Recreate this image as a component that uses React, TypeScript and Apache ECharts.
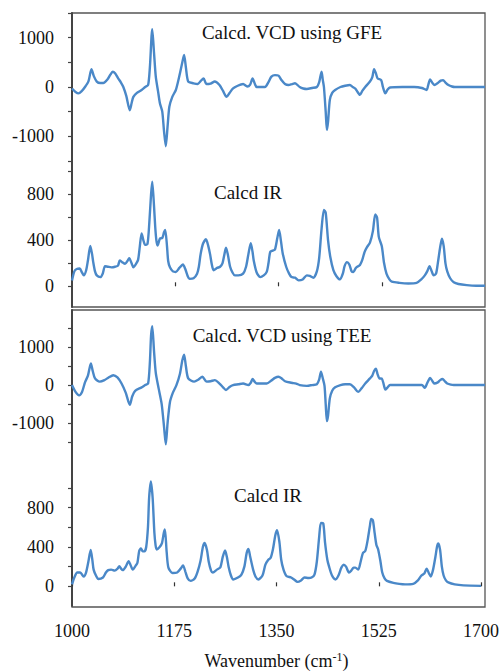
import React, { useEffect, useRef } from "react";
import * as echarts from "echarts";

// ---- data (wavenumber cm^-1, intensity) ----
const xTicks = [1000, 1175, 1350, 1525, 1700];
const vcdTicks = [-1500, -1000, -500, 0, 500, 1000, 1500];
const vcdLabels = [-1000, 0, 1000];
const irTicks = [0, 200, 400, 600, 800, 1000];
const irLabels = [0, 400, 800];

const vcdGFE: number[][] = [
  [1000, -30], [1006, -100], [1011, -130], [1016, -90], [1022, 0], [1028, 120], [1033, 360], [1037, 220], [1042, 110], [1048, 80], [1053, 80], [1060, 150], [1065, 250], [1069, 310], [1073, 280], [1078, 180], [1083, 90], [1087, 0], [1092, -180], [1098, -470], [1101, -330], [1104, -200], [1110, -120], [1118, -60], [1124, 0], [1129, 40], [1132, 400], [1136, 1170], [1139, 700], [1142, 210], [1146, -100], [1149, -330], [1153, -500], [1156, -900], [1159, -1200], [1162, -800], [1165, -400], [1170, -200], [1176, -60], [1180, 120], [1183, 280], [1187, 500], [1190, 650], [1193, 400], [1197, 110], [1206, 75], [1213, 60], [1218, 120], [1223, 175], [1228, 60], [1235, 70], [1242, 110], [1250, 40], [1256, -80], [1262, -200], [1267, -120], [1273, -30], [1280, 20], [1290, 60], [1297, 10], [1302, 50], [1306, 175], [1310, 60], [1313, 0], [1320, 0], [1327, 0], [1333, 100], [1338, 210], [1344, 240], [1350, 230], [1355, 140], [1361, 60], [1367, 40], [1373, 60], [1378, 75], [1386, 0], [1392, -30], [1398, -40], [1407, -20], [1415, 0], [1419, 100], [1423, 310], [1425, 150], [1427, 0], [1430, -500], [1432, -870], [1434, -700], [1437, -260], [1441, -120], [1446, -60], [1455, 0], [1463, 25], [1471, 40], [1476, 0], [1480, -30], [1484, -100], [1488, -160], [1492, -80], [1497, 0], [1505, 110], [1509, 200], [1512, 360], [1515, 280], [1518, 175], [1524, 140], [1527, 0], [1531, -130], [1535, -50], [1539, -10], [1560, 0], [1580, 0], [1593, -20], [1601, -60], [1604, 50], [1607, 155], [1611, 80], [1614, 40], [1620, 80], [1625, 130], [1629, 140], [1633, 90], [1638, 40], [1644, 10], [1649, 0], [1675, 0], [1700, 0],
];

const irGFE: number[][] = [
  [1000, 50], [1004, 130], [1008, 150], [1013, 155], [1017, 120], [1020, 95], [1024, 140], [1027, 225], [1031, 350], [1034, 280], [1036, 210], [1039, 130], [1042, 95], [1048, 80], [1052, 110], [1056, 175], [1061, 170], [1067, 165], [1073, 170], [1078, 180], [1081, 225], [1085, 210], [1090, 195], [1094, 220], [1097, 245], [1101, 200], [1104, 165], [1108, 190], [1112, 230], [1115, 350], [1118, 460], [1121, 400], [1124, 360], [1128, 370], [1131, 550], [1134, 800], [1136, 910], [1139, 700], [1141, 520], [1143, 400], [1145, 355], [1149, 415], [1153, 420], [1156, 470], [1158, 490], [1161, 350], [1163, 220], [1166, 165], [1171, 130], [1176, 125], [1182, 160], [1188, 190], [1192, 150], [1196, 90], [1199, 65], [1206, 70], [1212, 110], [1215, 170], [1218, 280], [1222, 370], [1227, 410], [1231, 350], [1234, 280], [1237, 190], [1240, 140], [1246, 160], [1251, 170], [1255, 200], [1258, 270], [1261, 335], [1264, 280], [1268, 170], [1272, 120], [1276, 95], [1282, 95], [1290, 110], [1295, 170], [1299, 280], [1303, 375], [1306, 300], [1308, 225], [1313, 120], [1319, 80], [1325, 95], [1330, 125], [1333, 200], [1336, 300], [1340, 310], [1344, 320], [1348, 420], [1351, 490], [1354, 400], [1357, 290], [1363, 170], [1368, 110], [1372, 80], [1378, 75], [1384, 52], [1391, 60], [1398, 95], [1403, 90], [1409, 75], [1415, 130], [1419, 250], [1423, 500], [1427, 665], [1430, 640], [1434, 400], [1438, 250], [1443, 140], [1448, 90], [1454, 60], [1459, 110], [1462, 175], [1466, 210], [1470, 190], [1474, 130], [1477, 125], [1481, 160], [1485, 175], [1488, 185], [1492, 230], [1496, 300], [1500, 340], [1505, 380], [1510, 480], [1514, 625], [1517, 600], [1520, 430], [1525, 350], [1529, 200], [1533, 110], [1538, 60], [1542, 40], [1555, 30], [1570, 25], [1584, 30], [1592, 60], [1598, 95], [1602, 130], [1606, 175], [1609, 140], [1613, 95], [1617, 110], [1620, 200], [1624, 340], [1627, 415], [1630, 350], [1633, 200], [1636, 130], [1641, 70], [1647, 35], [1655, 20], [1669, 10], [1685, 5], [1700, 5],
];

const vcdTEE: number[][] = [
  [1000, 0], [1006, -180], [1012, -270], [1017, -180], [1022, 70], [1027, 250], [1032, 570], [1035, 380], [1039, 175], [1047, 90], [1055, 130], [1062, 200], [1070, 260], [1077, 200], [1084, 40], [1091, -200], [1098, -520], [1102, -300], [1107, -150], [1118, -60], [1124, 0], [1129, 40], [1132, 600], [1134, 1300], [1136, 1550], [1139, 900], [1142, 320], [1147, -100], [1152, -500], [1156, -1100], [1159, -1560], [1162, -1000], [1166, -450], [1171, -200], [1177, 0], [1183, 300], [1187, 650], [1190, 800], [1193, 500], [1197, 175], [1207, 90], [1214, 140], [1221, 220], [1228, 90], [1235, 100], [1242, 130], [1250, 40], [1256, -60], [1261, -130], [1267, -50], [1273, 0], [1282, 20], [1290, 40], [1299, 0], [1303, 60], [1306, 160], [1310, 80], [1313, 40], [1322, 40], [1330, 40], [1338, 120], [1344, 190], [1350, 220], [1355, 180], [1361, 100], [1372, 60], [1380, 40], [1386, 0], [1398, -20], [1407, 0], [1415, 20], [1419, 150], [1422, 350], [1425, 180], [1428, -20], [1430, -500], [1432, -950], [1434, -800], [1437, -350], [1441, -150], [1446, -60], [1455, 0], [1463, 20], [1471, 20], [1478, -60], [1485, -180], [1491, -80], [1497, 40], [1505, 175], [1509, 250], [1512, 370], [1515, 430], [1518, 280], [1521, 175], [1525, 170], [1528, 40], [1531, -120], [1535, -60], [1539, 0], [1560, 0], [1580, 0], [1593, 0], [1598, -70], [1602, 50], [1607, 190], [1611, 100], [1614, 40], [1620, 70], [1624, 130], [1628, 160], [1632, 100], [1636, 40], [1642, 10], [1647, 0], [1675, 0], [1700, 0],
];

const irTEE: number[][] = [
  [1000, 20], [1004, 90], [1009, 140], [1014, 140], [1020, 100], [1024, 140], [1028, 250], [1032, 370], [1035, 260], [1037, 170], [1041, 110], [1045, 75], [1053, 90], [1058, 140], [1062, 165], [1067, 170], [1073, 160], [1078, 180], [1081, 205], [1084, 180], [1087, 165], [1092, 200], [1097, 255], [1100, 220], [1104, 170], [1109, 210], [1112, 240], [1115, 360], [1118, 385], [1121, 355], [1124, 355], [1127, 400], [1130, 600], [1132, 900], [1135, 1065], [1138, 900], [1141, 545], [1143, 420], [1145, 375], [1150, 400], [1154, 440], [1157, 540], [1159, 577], [1162, 350], [1165, 190], [1172, 135], [1180, 140], [1186, 180], [1190, 212], [1194, 150], [1198, 80], [1203, 55], [1210, 80], [1215, 150], [1220, 260], [1224, 400], [1227, 440], [1231, 370], [1234, 250], [1238, 160], [1241, 140], [1248, 170], [1254, 195], [1258, 300], [1262, 365], [1265, 300], [1268, 200], [1272, 110], [1276, 70], [1284, 90], [1290, 120], [1295, 200], [1299, 340], [1302, 380], [1305, 300], [1310, 170], [1314, 100], [1319, 70], [1326, 110], [1331, 220], [1336, 270], [1340, 290], [1344, 380], [1348, 520], [1351, 570], [1355, 450], [1358, 273], [1362, 170], [1367, 105], [1375, 90], [1380, 70], [1386, 45], [1392, 60], [1398, 90], [1405, 85], [1410, 90], [1415, 120], [1419, 250], [1423, 500], [1426, 645], [1430, 640], [1433, 450], [1437, 270], [1440, 200], [1445, 110], [1451, 70], [1456, 110], [1461, 190], [1465, 220], [1469, 200], [1474, 140], [1478, 160], [1482, 190], [1485, 190], [1490, 170], [1494, 250], [1498, 340], [1502, 360], [1506, 470], [1510, 620], [1512, 685], [1515, 670], [1518, 540], [1521, 420], [1524, 375], [1528, 250], [1531, 140], [1535, 80], [1539, 55], [1550, 35], [1560, 25], [1570, 20], [1584, 25], [1592, 60], [1598, 110], [1603, 130], [1607, 180], [1611, 130], [1614, 100], [1618, 170], [1622, 300], [1625, 410], [1627, 435], [1630, 370], [1633, 200], [1636, 110], [1640, 60], [1644, 40], [1655, 20], [1670, 10], [1700, 5],
];

const panelTitles = ["Calcd. VCD using GFE", "Calcd IR", "Calcd. VCD using TEE", "Calcd IR"];
const xAxisTitle = "Wavenumber (cm";

const FONT = "Liberation Serif";
const LINE = "#4a88c8";
const plain = (v: number) => String(v);

export default function App() {
  const ref = useRef<HTMLDivElement>(null);
  useEffect(() => {
    if (!ref.current) return;
    const chart = echarts.init(ref.current, undefined, { renderer: "svg" });

    const grids = [
      { left: 72, width: 413, top: 13, height: 148 },
      { left: 72, width: 413, top: 161, height: 146 },
      { left: 72, width: 413, top: 310, height: 145 },
      { left: 72, width: 413, top: 455, height: 152 },
    ];
    const yRanges = [
      [-1500, 1500],
      [-180, 1090],
      [-1840, 1975],
      [-200, 1335],
    ];
    const isVcd = [true, false, true, false];

    const xAxes = grids.map((_, i) => {
      const bottomOfBox = i === 1 || i === 3;
      return {
        type: "value",
        gridIndex: i,
        min: 1000,
        max: 1700,
        interval: 175,
        show: bottomOfBox,
        axisLine: { show: false },
        splitLine: { show: false },
        axisTick: {
          show: true,
          inside: true,
          length: 4,
          lineStyle: { color: "#333", width: 1.2 },
          customValues: i === 3 ? xTicks : xTicks.slice(1, 4),
        },
        axisLabel: {
          show: i === 3,
          customValues: xTicks,
          formatter: plain,
          margin: 16,
          color: "#111",
          fontFamily: FONT,
          fontSize: 18,
        },
        name: i === 3 ? `{a|${xAxisTitle}}{s|-1}{a|)}` : "",
        nameLocation: "middle",
        nameGap: 45,
        nameTextStyle: {
          rich: {
            a: { fontFamily: FONT, fontSize: 18, color: "#111", lineHeight: 20 },
            s: { fontFamily: FONT, fontSize: 12, color: "#111", verticalAlign: "top", lineHeight: 20, padding: [0, 0, 8, 0] },
          },
        },
      };
    });

    const yAxes = grids.map((_, i) => ({
      type: "value",
      gridIndex: i,
      min: yRanges[i][0],
      max: yRanges[i][1],
      splitLine: { show: false },
      axisLine: { show: true, lineStyle: { color: "#444", width: 2 } },
      axisTick: {
        show: true,
        inside: false,
        length: 4,
        lineStyle: { color: "#444", width: 1.2 },
        customValues: isVcd[i] ? vcdTicks : irTicks,
      },
      axisLabel: {
        customValues: isVcd[i] ? vcdLabels : irLabels,
        formatter: plain,
        margin: 18,
        color: "#111",
        fontFamily: FONT,
        fontSize: 18,
      },
    }));

    const datasets = [vcdGFE, irGFE, vcdTEE, irTEE];
    const series = datasets.map((d, i) => ({
      type: "line",
      xAxisIndex: i,
      yAxisIndex: i,
      data: d,
      showSymbol: false,
      smooth: 0.25,
      lineStyle: { color: LINE, width: 2.4 },
      silent: true,
    }));

    const titlePos = [
      [292, 32],
      [248, 192],
      [282, 335],
      [268, 495],
    ];

    chart.setOption({
      animation: false,
      backgroundColor: "#fff",
      grid: grids,
      xAxis: xAxes,
      yAxis: yAxes,
      series,
      graphic: [
        {
          type: "rect",
          shape: { x: 72, y: 13, width: 413, height: 294 },
          style: { fill: "none", stroke: "#555", lineWidth: 1.3 },
          silent: true,
        },
        {
          type: "rect",
          shape: { x: 72, y: 310, width: 413, height: 297 },
          style: { fill: "none", stroke: "#555", lineWidth: 1.3 },
          silent: true,
        },
        ...panelTitles.map((t, i) => ({
          type: "text",
          x: titlePos[i][0],
          y: titlePos[i][1],
          style: {
            text: t,
            font: `19px "${FONT}"`,
            fill: "#111",
            textAlign: "center",
            textVerticalAlign: "middle",
          },
          silent: true,
        })),
      ],
    });
    return () => chart.dispose();
  }, []);

  return (
    <div
      ref={ref}
      style={{ position: "fixed", left: 0, top: 0, width: 502, height: 672, background: "#fff" }}
    />
  );
}
